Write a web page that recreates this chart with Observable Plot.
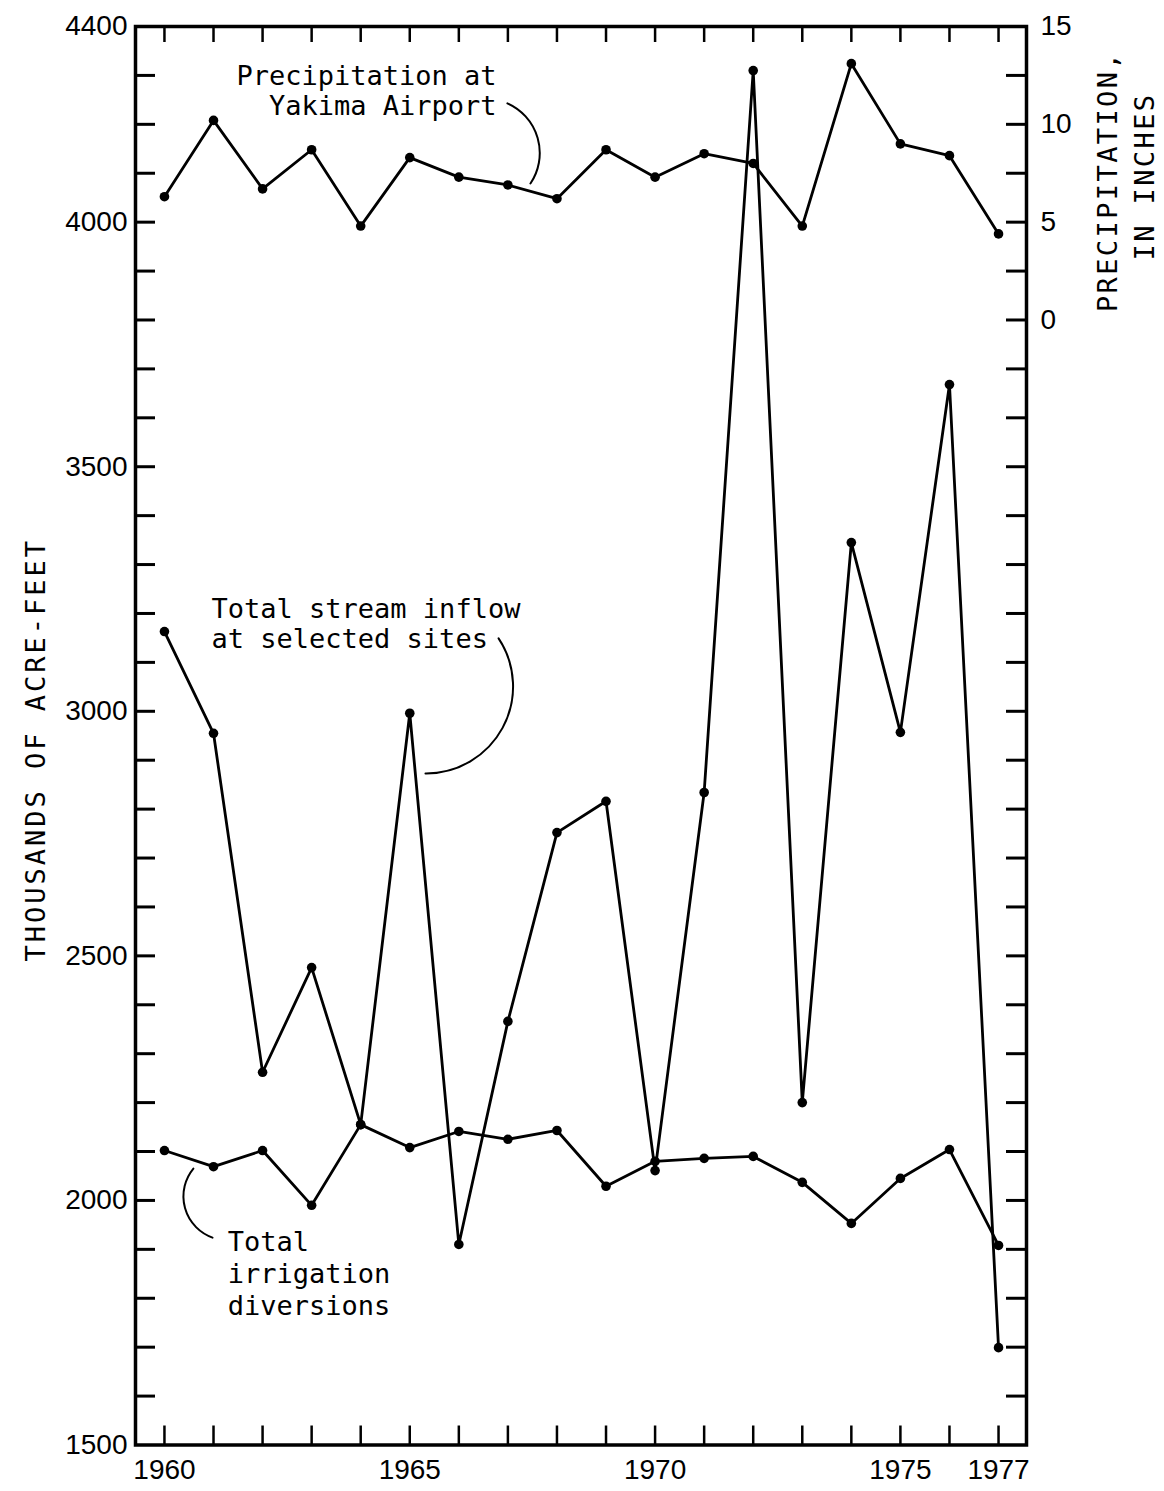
<!DOCTYPE html>
<html>
<head>
<meta charset="utf-8">
<script src="https://cdn.jsdelivr.net/npm/d3@7"></script>
<script src="https://cdn.jsdelivr.net/npm/@observablehq/plot@0.6"></script>
<style>
  html, body { margin: 0; padding: 0; background: #fff; }
  #chart svg { display: block; }
</style>
</head>
<body>
<div id="chart"></div>
<script>
// ---- Data ----
const years = [1960, 1961, 1962, 1963, 1964, 1965, 1966, 1967, 1968, 1969, 1970, 1971, 1972, 1973, 1974, 1975, 1976, 1977];
// Precipitation at Yakima Airport, inches (right axis)
const precipitation = [6.3, 10.2, 6.7, 8.7, 4.8, 8.3, 7.3, 6.9, 6.2, 8.7, 7.3, 8.5, 8.0, 4.8, 13.1, 9.0, 8.4, 4.4];
// Total stream inflow at selected sites, thousands of acre-feet
const streamInflow = [3163, 2955, 2262, 2476, 2155, 2996, 1910, 2366, 2752, 2816, 2061, 2834, 4310, 2200, 3345, 2957, 3668, 1699];
// Total irrigation diversions, thousands of acre-feet
const irrigation = [2102, 2069, 2102, 1990, 2155, 2108, 2141, 2125, 2143, 2029, 2080, 2086, 2090, 2037, 1953, 2045, 2104, 1908];

// Tick labels
const xTickLabels = [1960, 1965, 1970, 1975, 1977];
const leftTickLabels = [1500, 2000, 2500, 3000, 3500, 4000, 4400];
const rightTickLabels = [0, 5, 10, 15];
const leftTicks = d3.range(1600, 4400, 100);

// Right axis mapping: inches -> thousands of acre-feet position
const precipBase = 3800, precipScale = 40;
const toLeft = (p) => precipBase + precipScale * p;

// Annotations (data coordinates)
const precipLabel = {x: 1966.77, y: 4220, text: "Precipitation at\nYakima Airport"};
const inflowLabel = {x: 1960.96, y: 3130, text: "Total stream inflow\nat selected sites"};
const irrigLabel = {x: 1961.29, y: 1765, text: "Total\nirrigation\ndiversions"};
const precipLeader = {x1: 1966.99, y1: 4243, x2: 1967.46, y2: 4079};
const inflowLeader = {x1: 1966.81, y1: 3149, x2: 1965.32, y2: 2873};
const irrigLeader = {x1: 1960.59, y1: 2065, x2: 1960.98, y2: 1924};

const precipRows = years.map((year, i) => ({year, value: toLeft(precipitation[i])}));
const inflowRows = years.map((year, i) => ({year, value: streamInflow[i]}));
const irrigRows = years.map((year, i) => ({year, value: irrigation[i]}));

const W = 1164, H = 1491;
const mL = 135, mR = 138, mT = 26, mB = 46.5;
const frameW = W - mL - mR, frameH = H - mT - mB;
const mono = "DejaVu Sans Mono";
const textStyle = {fontFamily: mono, fontSize: 27, fill: "#000"};
const leaderStyle = {x1: "x1", y1: "y1", x2: "x2", y2: "y2", headLength: 0, stroke: "#000", strokeWidth: 2};

const chart = Plot.plot({
  width: W,
  height: H,
  marginLeft: mL,
  marginRight: mR,
  marginTop: mT,
  marginBottom: mB,
  style: {fontFamily: "Liberation Sans, Arial, sans-serif", fontSize: "28px", background: "#fff", color: "#000"},
  x: {domain: [1959.41, 1977.57]},
  y: {domain: [1500, 4400]},
  marks: [
    // inward ticks
    Plot.gridY({ticks: leftTicks, stroke: "#000", strokeOpacity: 1, strokeWidth: 3, insetRight: frameW - 20}),
    Plot.gridY({ticks: leftTicks, stroke: "#000", strokeOpacity: 1, strokeWidth: 3, insetLeft: frameW - 20}),
    Plot.gridX({ticks: years, stroke: "#000", strokeOpacity: 1, strokeWidth: 2.5, insetBottom: frameH - 16}),
    Plot.gridX({ticks: years, stroke: "#000", strokeOpacity: 1, strokeWidth: 2.5, insetTop: frameH - 19}),
    Plot.frame({stroke: "#000", strokeWidth: 3.5}),
    // axis labels
    Plot.axisY({anchor: "left", ticks: leftTickLabels, tickSize: 0, tickPadding: 8, tickFormat: "d", label: null, fontSize: 28}),
    Plot.axisY({anchor: "right", ticks: rightTickLabels.map(toLeft), tickSize: 0, tickPadding: 14, fontSize: 28,
      tickFormat: (d) => String(Math.round((d - precipBase) / precipScale)), label: null}),
    Plot.axisX({anchor: "bottom", ticks: xTickLabels, tickSize: 0, tickPadding: 14, tickFormat: "d", label: null, fontSize: 28}),
    // series
    Plot.line(precipRows, {x: "year", y: "value", stroke: "#000", strokeWidth: 2.8}),
    Plot.dot(precipRows, {x: "year", y: "value", r: 4.8, fill: "#000"}),
    Plot.line(inflowRows, {x: "year", y: "value", stroke: "#000", strokeWidth: 2.8}),
    Plot.dot(inflowRows, {x: "year", y: "value", r: 4.8, fill: "#000"}),
    Plot.line(irrigRows, {x: "year", y: "value", stroke: "#000", strokeWidth: 2.8}),
    Plot.dot(irrigRows, {x: "year", y: "value", r: 4.8, fill: "#000"}),
    // annotations
    Plot.text([precipLabel], {x: "x", y: "y", text: "text", textAnchor: "end", lineAnchor: "bottom", lineHeight: 1.08, ...textStyle}),
    Plot.text([inflowLabel], {x: "x", y: "y", text: "text", textAnchor: "start", lineAnchor: "bottom", lineHeight: 1.11, ...textStyle}),
    Plot.text([irrigLabel], {x: "x", y: "y", text: "text", textAnchor: "start", lineAnchor: "bottom", lineHeight: 1.19, ...textStyle}),
    Plot.arrow([precipLeader], {...leaderStyle, bend: 50}),
    Plot.arrow([inflowLeader], {...leaderStyle, bend: 62}),
    Plot.arrow([irrigLeader], {...leaderStyle, bend: -55}),
    // axis titles
    Plot.text(["THOUSANDS OF ACRE-FEET"], {text: (d) => d, frameAnchor: "left", dx: -99, dy: 14, rotate: -90,
      textAnchor: "middle", lineAnchor: "middle", ...textStyle}),
    Plot.text(["PRECIPITATION,"], {text: (d) => d, frameAnchor: "top-right", dx: 82, dy: 155, rotate: -90,
      textAnchor: "middle", lineAnchor: "middle", ...textStyle}),
    Plot.text(["IN INCHES"], {text: (d) => d, frameAnchor: "top-right", dx: 119, dy: 150, rotate: -90,
      textAnchor: "middle", lineAnchor: "middle", ...textStyle})
  ]
});

document.getElementById("chart").appendChild(chart);

// letter spacing for the typewriter-style titles
d3.select(chart).selectAll("text").each(function () {
  const t = this.textContent;
  if (t === "THOUSANDS OF ACRE-FEET") d3.select(this).attr("letter-spacing", "3px");
  if (t === "PRECIPITATION," || t === "IN INCHES") d3.select(this).attr("letter-spacing", "2.4px");
});
</script>
</body>
</html>
